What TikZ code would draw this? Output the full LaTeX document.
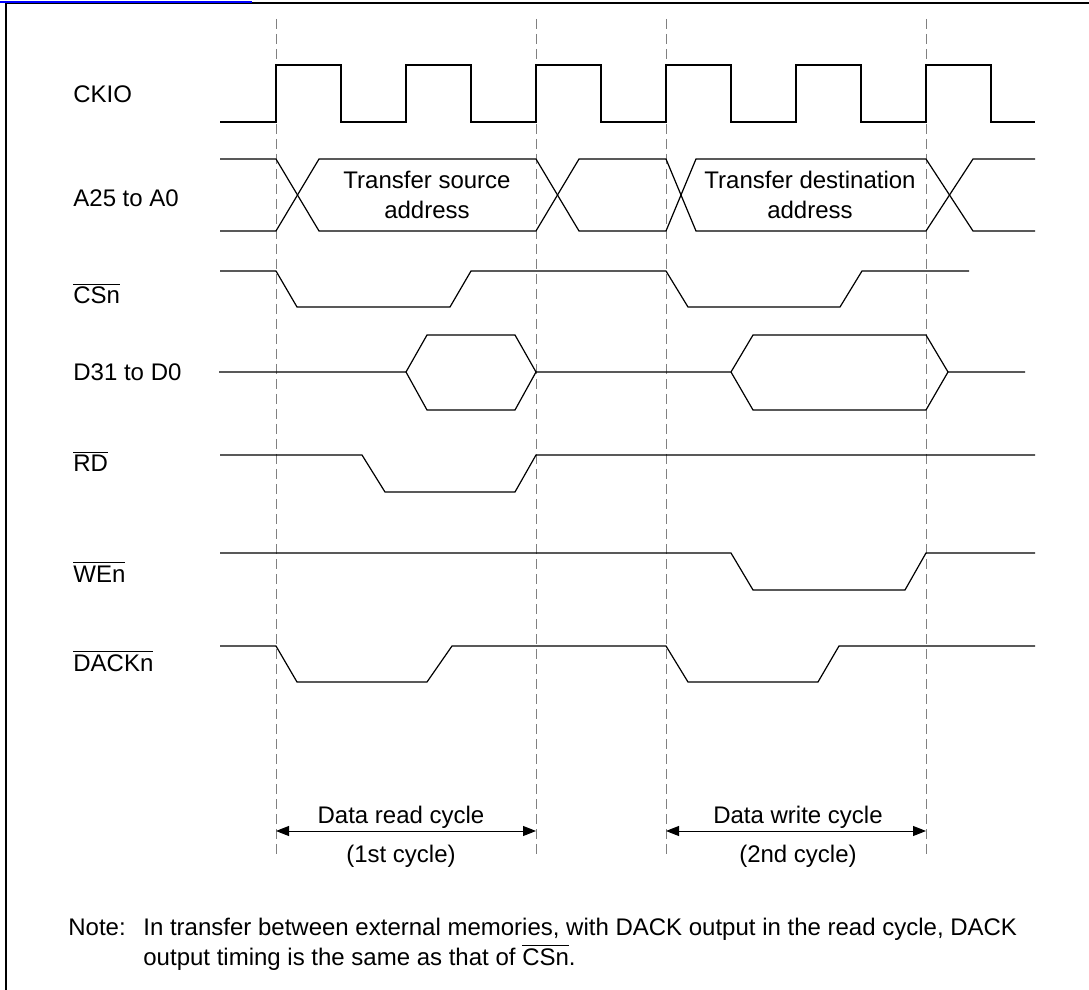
\documentclass[tikz,border=0pt]{standalone}
\usepackage{fontspec}
\setmainfont{Liberation Sans}
\usetikzlibrary{arrows.meta}
\newcommand{\ovl}[1]{$\overline{\mbox{#1}}$}

\begin{document}
\begin{tikzpicture}[x=0.5pt,y=-0.5pt,line join=miter,
  wave/.style={line width=0.6pt},
  cycleline/.style={gray,line width=0.5pt,dash pattern=on 5pt off 2.5pt},
  siglabel/.style={anchor=base west,inner sep=0pt,font=\fontsize{12}{15}\selectfont},
  buslabel/.style={align=center,inner sep=0pt,font=\fontsize{12}{15}\selectfont},
  cyclabel/.style={anchor=base,inner sep=0pt,font=\fontsize{12}{15}\selectfont},
  notetext/.style={anchor=base west,inner sep=0pt,font=\fontsize{12}{15}\selectfont},
  span/.style={line width=0.5pt,{Triangle[length=6.5pt,width=5pt]}-{Triangle[length=6.5pt,width=5pt]}}]
\useasboundingbox (0,0) rectangle (1089,990);

% frame
\draw[line width=1pt] (6,990) -- (6,3) -- (1089,3);
\draw[blue,line width=1pt] (0,2) -- (252,2);

% cycle boundaries
\coordinate (T1) at (276,19);
\coordinate (T2) at (536,19);
\coordinate (T3) at (666,19);
\coordinate (T4) at (926,19);
\draw[cycleline] (T1) -- (276,857);
\draw[cycleline] (T2) -- (536,857);
\draw[cycleline] (T3) -- (666,857);
\draw[cycleline] (T4) -- (926,857);

% signal names
\node[siglabel] (ckio) at (73,103) {CKIO};
\node[siglabel] (addr) at (73,206) {A25 to A0};
\node[siglabel] (csn)  at (73,304) {\ovl{CSn}};
\node[siglabel] (data) at (73,380) {D31 to D0};
\node[siglabel] (rd)   at (73,472) {\ovl{RD}};
\node[siglabel] (wen)  at (73,582) {\ovl{WEn}};
\node[siglabel] (dack) at (73,671) {\ovl{DACKn}};

% CKIO
\draw[wave] (220,122) -| (276,65) -| (341,122) -| (406,65) -| (471,122) -| (536,65)
  -| (601,122) -| (666,65) -| (731,122) -| (796,65) -| (861,122) -| (926,65)
  -| (991,122) -- (1035,122);

% A25 to A0
\draw[wave] (220,159) -- (276,159) -- (319,231) -- (536,231) -- (579,159) -- (666,159)
  -- (696,231) -- (926,231) -- (973,159) -- (1035,159);
\draw[wave] (220,231) -- (276,231) -- (319,159) -- (536,159) -- (579,231) -- (666,231)
  -- (696,159) -- (926,159) -- (973,231) -- (1035,231);
\node[buslabel] (src) at (427,195) {Transfer source\\address};
\node[buslabel] (dst) at (810,195) {Transfer destination\\address};

% CSn
\draw[wave] (220,271) -- (276,271) -- (297,307) -- (450,307) -- (471,271) -- (666,271)
  -- (688,307) -- (840,307) -- (862,271) -- (969,271);

% D31 to D0
\draw[wave] (219,372) -- (406,372) -- (427,335) -- (515,335) -- (536,372) -- (731,372)
  -- (753,335) -- (926,335) -- (948,372) -- (1025,372);
\draw[wave] (406,372) -- (427,410) -- (515,410) -- (536,372);
\draw[wave] (731,372) -- (753,410) -- (926,410) -- (948,372);

% RD
\draw[wave] (220,455) -- (362,455) -- (385,492) -- (515,492) -- (536,455) -- (1035,455);

% WEn
\draw[wave] (220,553) -- (731,553) -- (753,590) -- (905,590) -- (926,553) -- (1035,553);

% DACKn
\draw[wave] (220,646) -- (276,646) -- (297,682) -- (427,682) -- (452,646) -- (666,646)
  -- (688,682) -- (818,682) -- (839,646) -- (1035,646);

% cycle spans
\coordinate (rdL) at (276,831);
\coordinate (rdR) at (536,831);
\coordinate (wrL) at (666,831);
\coordinate (wrR) at (926,831);
\draw[span] (rdL) -- (rdR);
\draw[span] (wrL) -- (wrR);
\node[cyclabel] (rdcyc)  at (401,823) {Data read cycle};
\node[cyclabel] (rdnum)  at (401,862) {(1st cycle)};
\node[cyclabel] (wrcyc)  at (798,823) {Data write cycle};
\node[cyclabel] (wrnum)  at (798,862) {(2nd cycle)};

% note
\node[notetext] (note)  at (68,935)  {Note:};
\node[notetext] (note1) at (143,935) {In transfer between external memories, with DACK output in the read cycle, DACK};
\node[notetext] (note2) at (143,965) {output timing is the same as that of \ovl{CSn}.};

\end{tikzpicture}
\end{document}
